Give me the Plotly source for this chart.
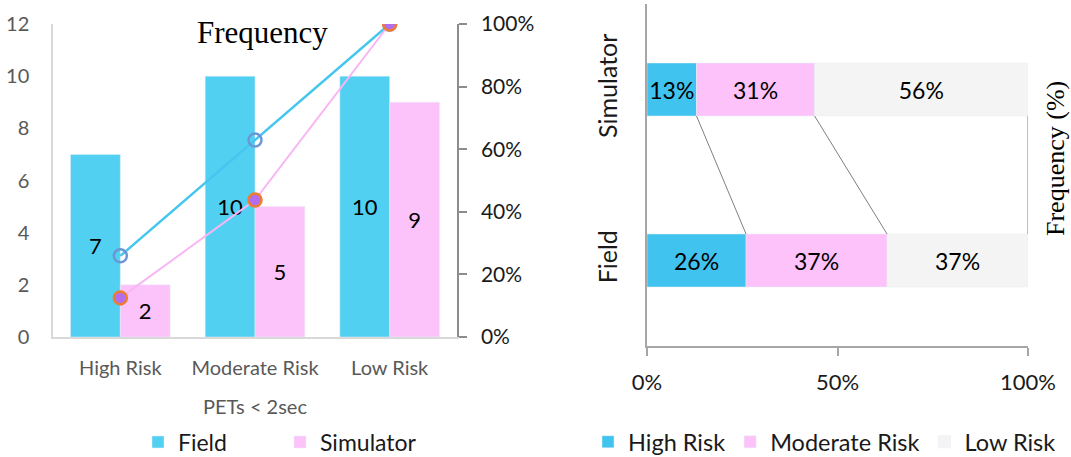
import numpy as np
import plotly.graph_objects as go

# ---- data ----
risk_levels = ["High Risk", "Moderate Risk", "Low Risk"]
field_counts = [7, 10, 10]
sim_counts = [2, 5, 9]

groups = ["Field", "Simulator"]
high_pct = [26, 13]      # Field, Simulator
moderate_pct = [37, 31]
low_pct = [37, 56]

pct_ticks = [0, 20, 40, 60, 80, 100]
share_ticks = [0, 50, 100]

# ---- styling ----
W, H = 1071, 457
FONT = "Lato"
GREY_TXT = "#595959"
DARK_TXT = "#1a1a1a"
FIELD_C = "#52D0F2"
SIM_C = "#FCC3FA"
HIGH_C = "#41C3F0"
MOD_C = "#FDC2FA"
LOW_C = "#F4F4F4"
BAR_W = 0.37
HBAR_W = 0.31


def px_x(p):
    return p / W


def px_y(p):
    return (H - p) / H


field_cum = np.cumsum(field_counts) / np.sum(field_counts) * 100
sim_cum = np.cumsum(sim_counts) / np.sum(sim_counts) * 100

fig = go.Figure()

# ---- left: frequency bars ----
fig.add_trace(go.Bar(
    x=risk_levels, y=field_counts, name="Field", marker_color=FIELD_C,
    offset=-BAR_W, width=BAR_W, xaxis="x", yaxis="y",
    text=field_counts, textposition="inside", insidetextanchor="middle",
    constraintext="none", textangle=0,
    insidetextfont=dict(family=FONT, size=22, color="#000000"),
    legend="legend",
))
fig.add_trace(go.Bar(
    x=risk_levels, y=sim_counts, name="Simulator", marker_color=SIM_C,
    offset=0, width=BAR_W, xaxis="x", yaxis="y",
    text=sim_counts, textposition="inside", insidetextanchor="middle",
    constraintext="none", textangle=0,
    insidetextfont=dict(family=FONT, size=22, color="#000000"),
    legend="legend",
))

# cumulative percentage lines
fig.add_trace(go.Scatter(
    x=risk_levels, y=field_cum, mode="lines+markers", xaxis="x", yaxis="y2",
    line=dict(color="#45C6EE", width=2.5),
    marker=dict(size=13, color="rgba(0,0,0,0)", line=dict(color="#6C97D6", width=2.5)),
    showlegend=False, hoverinfo="skip",
))
fig.add_trace(go.Scatter(
    x=risk_levels, y=sim_cum, mode="lines+markers", xaxis="x", yaxis="y2",
    line=dict(color="#F8B6F4", width=2),
    marker=dict(size=13, color="#B36EF0", line=dict(color="#EE7D30", width=2.5)),
    showlegend=False, hoverinfo="skip",
))

# ---- right: 100% stacked shares ----
ypos = list(range(len(groups)))
starts = np.zeros(len(groups))
for name, vals, col in [("High Risk", high_pct, HIGH_C),
                        ("Moderate Risk", moderate_pct, MOD_C),
                        ("Low Risk", low_pct, LOW_C)]:
    fig.add_trace(go.Bar(
        y=ypos, x=vals, base=starts.copy(), orientation="h", name=name,
        marker_color=col, width=HBAR_W, xaxis="x3", yaxis="y3",
        text=[f"{v}%" for v in vals], textposition="inside",
        insidetextanchor="middle", constraintext="none", textangle=0,
        insidetextfont=dict(family=FONT, size=23, color="#000000"),
        legend="legend2",
    ))
    starts = starts + np.array(vals)

# connector lines between the stacked segments
sim_edges = np.cumsum([high_pct[1], moderate_pct[1], low_pct[1]])
field_edges = np.cumsum([high_pct[0], moderate_pct[0], low_pct[0]])
cx, cy = [], []
for s, f in zip(sim_edges, field_edges):
    cx += [s, f, None]
    cy += [1 - HBAR_W / 2, HBAR_W / 2, None]
fig.add_trace(go.Scatter(
    x=cx, y=cy, mode="lines", xaxis="x3", yaxis="y3",
    line=dict(color="#7f7f7f", width=1), showlegend=False, hoverinfo="skip",
))

fig.update_layout(
    width=W, height=H,
    margin=dict(l=0, r=0, t=0, b=0, autoexpand=False),
    paper_bgcolor="white", plot_bgcolor="white",
    barmode="overlay",
    font=dict(family=FONT, size=20, color=DARK_TXT),
    xaxis=dict(
        domain=[px_x(53), px_x(457)], range=[-0.5, 2.5], automargin=False,
        showline=True, linecolor="#d9d9d9", linewidth=1.5,
        showgrid=False, ticks="", ticklabelstandoff=12,
        tickfont=dict(family=FONT, size=20, color=GREY_TXT),
        title=dict(text="PETs < 2sec", standoff=22,
                   font=dict(family=FONT, size=20, color=GREY_TXT)),
        fixedrange=True,
    ),
    yaxis=dict(
        domain=[px_y(337), px_y(24)], range=[0, 12], dtick=2, automargin=False,
        showline=True, linecolor="#d9d9d9", linewidth=1.5,
        showgrid=False, zeroline=False, ticks="", ticklabelstandoff=18,
        tickfont=dict(family=FONT, size=20, color=GREY_TXT),
    ),
    yaxis2=dict(
        overlaying="y", side="right", anchor="x", range=[0, 100], automargin=False,
        tickvals=pct_ticks, ticktext=[f"{v}%" for v in pct_ticks],
        showline=True, linecolor="#8c8c8c", linewidth=1.5,
        ticks="outside", ticklen=8, tickcolor="#8c8c8c", tickwidth=1.5,
        showgrid=False, zeroline=False, ticklabelstandoff=10,
        tickfont=dict(family=FONT, size=21, color=DARK_TXT),
    ),
    xaxis3=dict(
        domain=[px_x(647), px_x(1028)], anchor="y3", range=[0, 100], automargin=False,
        tickvals=share_ticks, ticktext=[f"{v}%" for v in share_ticks],
        showline=True, linecolor="#a6a6a6", linewidth=1.5,
        ticks="outside", ticklen=8, tickcolor="#a6a6a6", tickwidth=1.5,
        showgrid=False, zeroline=False, ticklabelstandoff=8,
        tickfont=dict(family=FONT, size=22, color=DARK_TXT),
    ),
    yaxis3=dict(
        domain=[px_y(346), px_y(4)], anchor="x3", range=[-0.5, 1.5], automargin=False,
        tickvals=ypos, ticktext=groups, tickangle=-90,
        showline=True, linecolor="#a6a6a6", linewidth=1.5,
        showgrid=False, zeroline=False, ticks="", ticklabelstandoff=18,
        tickfont=dict(family=FONT, size=25, color=DARK_TXT),
    ),
    legend=dict(
        orientation="h", x=px_x(138), y=px_y(442), yanchor="middle", xanchor="left",
        font=dict(family=FONT, size=23, color=DARK_TXT),
        bgcolor="rgba(0,0,0,0)", traceorder="normal",
        entrywidth=97, entrywidthmode="pixels",
    ),
    legend2=dict(
        orientation="h", x=px_x(588), y=px_y(442), yanchor="middle", xanchor="left",
        font=dict(family=FONT, size=23.5, color=DARK_TXT),
        bgcolor="rgba(0,0,0,0)", traceorder="normal",
    ),
    annotations=[
        dict(text="Frequency", x=px_x(262), y=px_y(32), xref="paper", yref="paper",
             showarrow=False, xanchor="center", yanchor="middle",
             font=dict(family="Liberation Serif", size=31, color="#000000")),
        dict(text="Frequency (%)", x=px_x(1056), y=px_y(159), xref="paper", yref="paper",
             showarrow=False, xanchor="center", yanchor="middle", textangle=-90,
             font=dict(family="Liberation Serif", size=26, color="#000000")),
    ],
)

fig.write_html("out.html")
